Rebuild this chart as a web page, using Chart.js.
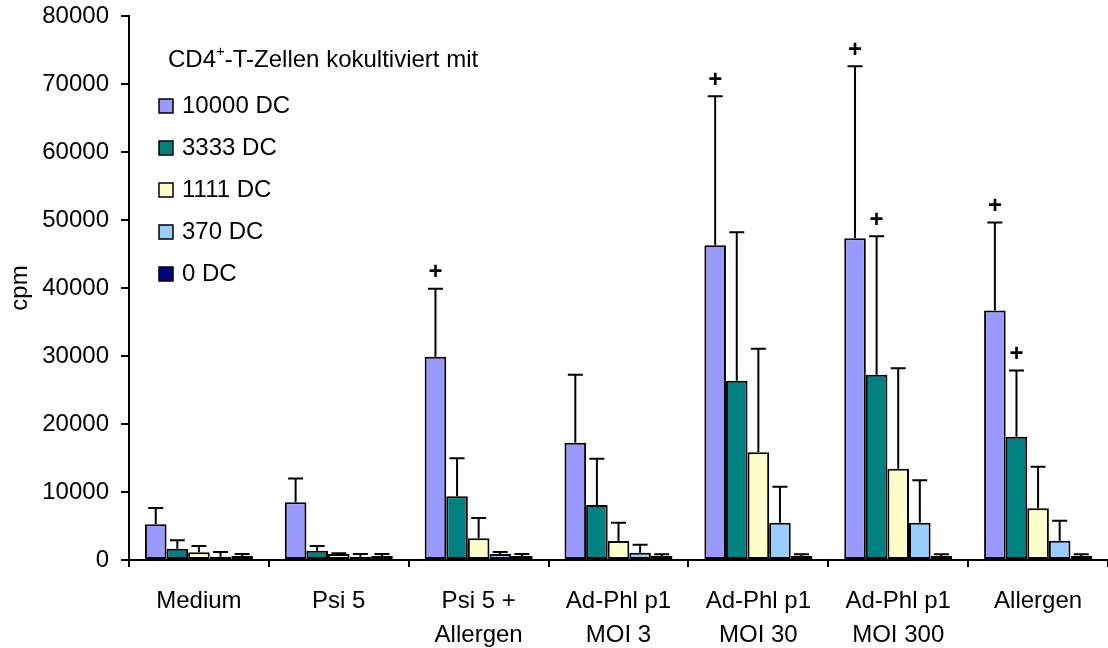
<!DOCTYPE html>
<html>
<head>
<meta charset="utf-8">
<script src="https://cdn.jsdelivr.net/npm/chart.js@4.4.0/dist/chart.umd.min.js"></script>
<style>
  html, body { margin: 0; padding: 0; background: #fff; }
  #wrap { width: 1108px; height: 648px; }
</style>
</head>
<body>
<div id="wrap"><canvas id="chart" width="1108" height="648"></canvas></div>
<script>
// Categories (x axis)
const categories = ['Medium', 'Psi 5', ['Psi 5 +', 'Allergen'], ['Ad-Phl p1', 'MOI 3'],
    ['Ad-Phl p1', 'MOI 30'], ['Ad-Phl p1', 'MOI 300'], 'Allergen'];

// Series means (cpm)
const dc10000 = [5250, 8500, 29900, 17250, 46300, 47300, 36700];
const dc3333 = [1670, 1370, 9360, 8090, 26370, 27250, 18140];
const dc1111 = [1130, 880, 3190, 2790, 15830, 13430, 7600];
const dc370 = [490, 490, 880, 1080, 5490, 5490, 2840];
const dc0 = [590, 590, 590, 590, 590, 590, 590];

// Upper error bars (SD)
const err10000 = [2400, 3500, 10000, 10000, 21900, 25300, 12950];
const err3333 = [1220, 690, 5590, 6810, 21830, 20350, 9740];
const err1111 = [930, 100, 2990, 2700, 15250, 14760, 6130];
const err370 = [690, 390, 300, 1170, 5290, 6230, 2940];
const err0 = [290, 290, 290, 240, 240, 240, 240];

// "+" markers (significance)
const plus10000 = [0, 0, 1, 0, 1, 1, 1];
const plus3333 = [0, 0, 0, 0, 0, 1, 1];
const plusNone = [0, 0, 0, 0, 0, 0, 0];

// Y axis ticks
const yMin = 0, yMax = 80000, yStep = 10000;

const legendTitle = 'CD4';
const legendTitleSup = '+';
const legendTitleRest = '-T-Zellen kokultiviert mit';

const FONT = '"Liberation Sans", Arial, sans-serif';

function makeSet(label, data, err, plus, color) {
    return {
        label, data, err, plus,
        backgroundColor: color,
        borderColor: '#000',
        borderWidth: 2,
        borderSkipped: false,
        categoryPercentage: 0.772,
        barPercentage: 1.0
    };
}

// Error bars + plus signs
const errorBarPlugin = {
    id: 'errorBars',
    afterDatasetsDraw(chart) {
        const ctx = chart.ctx;
        const y = chart.scales.y;
        ctx.save();
        ctx.strokeStyle = '#000';
        ctx.lineWidth = 2;
        chart.data.datasets.forEach((ds, i) => {
            const meta = chart.getDatasetMeta(i);
            meta.data.forEach((bar, j) => {
                const top = y.getPixelForValue(ds.data[j] + ds.err[j]);
                const x = bar.x;
                ctx.beginPath();
                ctx.moveTo(x, bar.y);
                ctx.lineTo(x, top);
                ctx.moveTo(x - 7.5, top);
                ctx.lineTo(x + 7.5, top);
                ctx.stroke();
                if (ds.plus[j]) {
                    ctx.fillStyle = '#000';
                    ctx.font = 'bold 24px ' + FONT;
                    ctx.textAlign = 'center';
                    ctx.textBaseline = 'middle';
                    ctx.fillText('+', x, top - 16);
                }
            });
        });
        ctx.restore();
    }
};

// Legend drawn inside the plot area
const legendPlugin = {
    id: 'innerLegend',
    afterDraw(chart) {
        const ctx = chart.ctx;
        ctx.save();
        ctx.fillStyle = '#000';
        ctx.textBaseline = 'middle';
        ctx.textAlign = 'left';
        ctx.font = '24px ' + FONT;
        let x = 168;
        ctx.fillText(legendTitle, x, 60);
        x += ctx.measureText(legendTitle).width;
        ctx.font = '15px ' + FONT;
        ctx.fillText(legendTitleSup, x, 52);
        x += ctx.measureText(legendTitleSup).width;
        ctx.font = '24px ' + FONT;
        ctx.fillText(legendTitleRest, x, 60);

        chart.data.datasets.forEach((ds, i) => {
            const cy = 106 + i * 42;
            ctx.fillStyle = ds.backgroundColor;
            ctx.fillRect(159, cy - 7, 14, 14);
            ctx.strokeStyle = '#000';
            ctx.lineWidth = 1.5;
            ctx.strokeRect(159, cy - 7, 14, 14);
            ctx.fillStyle = '#000';
            ctx.fillText(ds.label, 182, cy);
        });
        ctx.restore();
    }
};

new Chart(document.getElementById('chart'), {
    type: 'bar',
    data: {
        labels: categories,
        datasets: [
            makeSet('10000 DC', dc10000, err10000, plus10000, '#9999FF'),
            makeSet('3333 DC', dc3333, err3333, plus3333, '#008080'),
            makeSet('1111 DC', dc1111, err1111, plusNone, '#FFFFCC'),
            makeSet('370 DC', dc370, err370, plusNone, '#99CCFF'),
            makeSet('0 DC', dc0, err0, plusNone, '#000080')
        ]
    },
    options: {
        responsive: false,
        animation: false,
        layout: { padding: { top: 16, right: 0, left: 0, bottom: 0 } },
        plugins: {
            legend: { display: false },
            tooltip: { enabled: false }
        },
        scales: {
            x: {
                grid: { display: true, drawOnChartArea: false, offset: true, tickLength: 7, color: '#000', lineWidth: 2 },
                border: { color: '#000', width: 2 },
                ticks: { color: '#000', font: { family: FONT, size: 24, lineHeight: 1.4 }, padding: 18, maxRotation: 0, autoSkip: false },
                afterFit: s => { s.height = 88; s.paddingLeft = 0; s.paddingRight = 0; }
            },
            y: {
                min: yMin,
                max: yMax,
                grid: { drawOnChartArea: false, tickLength: 8, color: '#000', lineWidth: 2 },
                border: { color: '#000', width: 2 },
                ticks: { stepSize: yStep, color: '#000', font: { family: FONT, size: 24 }, padding: 12, callback: v => String(v) },
                title: { display: true, text: 'cpm', color: '#000', font: { family: FONT, size: 24 }, padding: { top: 6, bottom: 0 } },
                afterFit: s => { s.width = 129; s.paddingTop = 0; s.paddingBottom = 0; }
            }
        }
    },
    plugins: [errorBarPlugin, legendPlugin]
});
</script>
</body>
</html>
